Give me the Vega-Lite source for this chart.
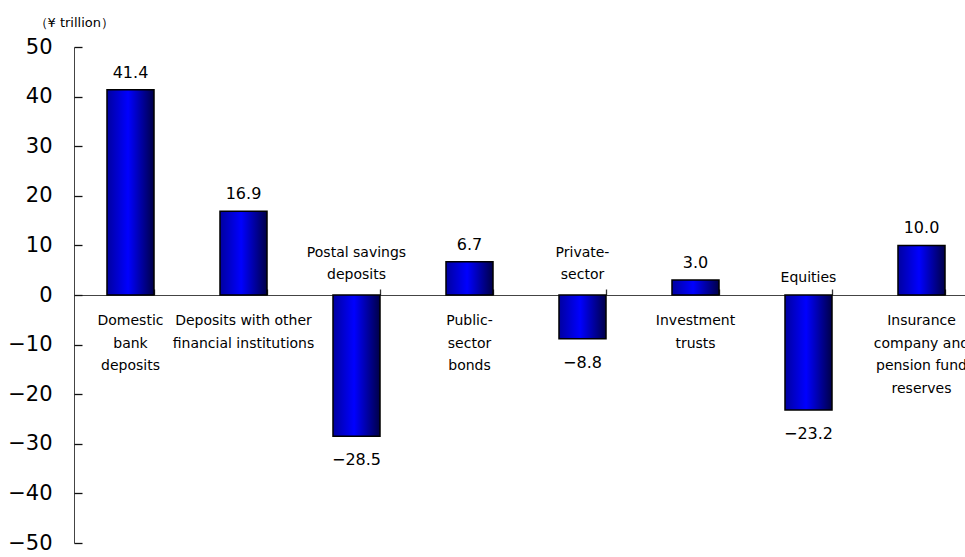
{
  "$schema": "https://vega.github.io/schema/vega-lite/v6.json",
  "autosize": {"type": "none"},
  "width": 904,
  "height": 496,
  "padding": {"left": 74, "top": 47, "right": 0, "bottom": 14},
  "background": "white",
  "config": {"view": {"stroke": null}, "font": "DejaVu Sans"},
  "data": {"values": [
    {"cat": "Domestic bank deposits", "label": ["Domestic", "bank", "deposits"], "value": 41.4},
    {"cat": "Deposits with other financial institutions", "label": ["Deposits with other", "financial institutions"], "value": 16.9},
    {"cat": "Postal savings deposits", "label": ["Postal savings", "deposits"], "value": -28.5},
    {"cat": "Public-sector bonds", "label": ["Public-", "sector", "bonds"], "value": 6.7},
    {"cat": "Private-sector", "label": ["Private-", "sector"], "value": -8.8},
    {"cat": "Investment trusts", "label": ["Investment", "trusts"], "value": 3.0},
    {"cat": "Equities", "label": ["Equities"], "value": -23.2},
    {"cat": "Insurance company and pension fund reserves", "label": ["Insurance", "company and", "pension fund", "reserves"], "value": 10.0}
  ]},
  "resolve": {"axis": {"y": "independent"}},
  "encoding": {
    "x": {"field": "cat", "type": "nominal", "sort": null,
      "scale": {"paddingInner": 0.584, "paddingOuter": 0.292},
      "axis": {"orient": "top", "offset": -248, "labels": false, "title": null, "tickBand": "extent", "tickSize": 6, "tickColor": "#333", "domainColor": "#444", "domainWidth": 1, "tickWidth": 1.3}
    }
  },
  "layer": [
    {
      "mark": {"type": "bar", "stroke": "black", "strokeWidth": 1.5,
        "color": {"gradient": "linear", "x1": 0, "y1": 0, "x2": 1, "y2": 0,
          "stops": [{"offset": 0, "color": "#0000a0"}, {"offset": 0.45, "color": "#0000ff"}, {"offset": 1, "color": "#000048"}]}},
      "encoding": {
        "y": {"field": "value", "type": "quantitative",
          "scale": {"domain": [-50, 50], "nice": false},
          "axis": {"values": [-50, -40, -30, -20, -10, 0, 10, 20, 30, 40, 50], "grid": false,
            "ticks": false, "labelPadding": 22, "labelFontSize": 21, "labelColor": "black", "labelFont": "DejaVu Sans",
            "domainColor": "#444",
            "title": "（¥ trillion）", "titleAngle": 0, "titleX": -40, "titleY": -25, "titleAlign": "left", "titleBaseline": "middle",
            "titleFontSize": 13, "titleFont": "DejaVu Sans", "titleFontWeight": "normal", "titleColor": "black"}
        },
        "y2": {"datum": 0}
      }
    },
    {
      "transform": [{"filter": "datum.value >= 0"}],
      "mark": {"type": "text", "baseline": "middle", "dy": -17, "fontSize": 16, "color": "black"},
      "encoding": {
        "y": {"field": "value", "type": "quantitative",
          "axis": {"orient": "right", "offset": -904, "labels": false, "domain": false, "title": null, "grid": false,
            "values": [-50, -40, -30, -20, -10, 0, 10, 20, 30, 40, 50], "tickSize": 8, "tickWidth": 1.3, "tickColor": "#111"}},
        "text": {"field": "value", "type": "quantitative", "format": ".1f"}}
    },
    {
      "transform": [{"filter": "datum.value < 0"}],
      "mark": {"type": "text", "baseline": "middle", "dy": 24, "fontSize": 16, "color": "black"},
      "encoding": {"y": {"field": "value", "type": "quantitative", "axis": null}, "text": {"field": "value", "type": "quantitative", "format": ".1f"}}
    },
    {
      "transform": [{"filter": "datum.value >= 0"}],
      "mark": {"type": "text", "baseline": "middle", "dy": 26, "fontSize": 14, "lineHeight": 22.5, "color": "black"},
      "encoding": {"y": {"datum": 0, "axis": null}, "text": {"field": "label"}}
    },
    {
      "transform": [{"filter": "datum.value < 0 && datum.cat != 'Equities'"}],
      "mark": {"type": "text", "baseline": "middle", "dy": -42, "fontSize": 14, "lineHeight": 22, "color": "black"},
      "encoding": {"y": {"datum": 0, "axis": null}, "text": {"field": "label"}}
    },
    {
      "transform": [{"filter": "datum.cat == 'Equities'"}],
      "mark": {"type": "text", "baseline": "middle", "dy": -17, "fontSize": 14, "color": "black"},
      "encoding": {"y": {"datum": 0, "axis": null}, "text": {"field": "label"}}
    }
  ]
}
